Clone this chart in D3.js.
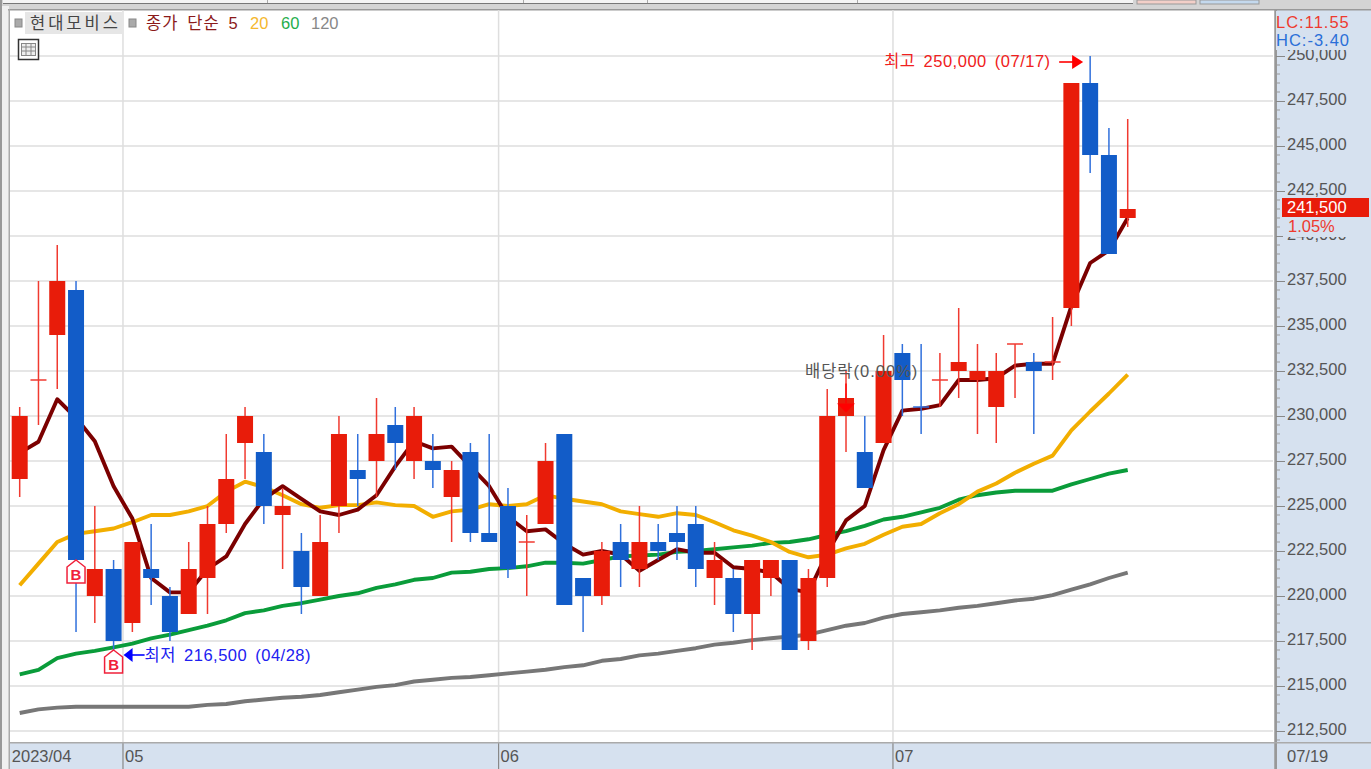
<!DOCTYPE html>
<html lang="ko">
<head>
<meta charset="utf-8">
<title>현대모비스</title>
<script src="https://cdnjs.cloudflare.com/ajax/libs/d3/7.8.5/d3.min.js"></script>
<style>
html,body{margin:0;padding:0;background:#d4d4d4;overflow:hidden}
svg{display:block}
text{font-family:"Liberation Sans","Noto Sans CJK KR",sans-serif;font-size:16.5px;fill:#555}
</style>
</head>
<body>
<svg id="c" width="1371" height="769"></svg>
<script>
const dates = ["04/21","04/24","04/25","04/26","04/27","04/28","05/02","05/03","05/04","05/08","05/09","05/10","05/11","05/12","05/15","05/16","05/17","05/18","05/19","05/22","05/23","05/24","05/25","05/26","05/30","05/31","06/01","06/02","06/05","06/07","06/08","06/09","06/12","06/13","06/14","06/15","06/16","06/19","06/20","06/21","06/22","06/23","06/26","06/27","06/28","06/29","06/30","07/03","07/04","07/05","07/06","07/07","07/10","07/11","07/12","07/13","07/14","07/17","07/18","07/19"];
const opens  = [226500,232000,234500,237000,220000,221500,218500,221500,220000,219000,221000,224000,228500,228000,224500,222500,220000,225000,227000,227500,229500,227500,227500,225500,228000,223500,225000,223000,224000,229000,221000,220000,223000,221500,223000,223500,224000,221000,221000,219000,221000,222000,217500,221000,230000,228000,228500,233500,230500,232000,232500,232000,230500,234000,233000,233000,236000,248500,244500,241000];
const closes = [230000,232000,237500,222000,221500,217500,223000,221000,218000,221500,224000,226500,230000,225000,225000,220500,223000,229000,226500,229000,228500,230000,227000,227000,223500,223000,221500,223000,227500,219500,220000,222500,222000,223000,222500,223000,221500,222000,219000,222000,222000,217000,221000,230000,231000,226000,232500,232000,230500,232000,233000,232500,232500,234000,232500,233000,248500,244500,239000,241500];
const high  = [230500,237500,239500,237500,225000,222000,223000,224000,220500,223000,225000,229000,230500,229000,226000,223500,224500,230000,229000,231000,230500,230500,229000,227500,228500,229000,226000,224500,228500,229000,221000,223000,224000,225000,224000,225000,225000,223000,221500,222000,222000,222000,221500,231500,232500,230000,234500,234000,234000,233500,236000,234000,233500,234000,233500,235500,248500,250000,246000,246500];
const low   = [225500,229500,231500,218000,218500,216500,218000,219500,217500,219000,219000,223500,226500,224000,221500,219000,220000,223500,225000,225500,227000,226500,226000,223000,223000,223000,221000,220000,224000,219500,218000,219500,220500,220500,222000,222000,220500,219500,218000,217000,220000,217000,217000,220500,228000,226000,228500,230000,229000,230500,231000,229000,228500,231000,229000,232000,235000,243500,239000,240500];
const ma5   = [227950,228570,230930,229900,228600,226100,224300,221000,220200,220200,221500,222200,224000,225400,226100,225400,224700,224500,224800,225600,227200,228600,228200,228300,227200,226100,224400,223600,223700,222900,222300,222500,222300,221400,222000,222600,222400,222400,221600,221500,221300,220400,220200,222400,224200,225000,228100,230300,230400,230600,232000,232000,232100,232800,232900,232900,236100,238500,239200,241000];
const ma20  = [220600,221800,223000,223450,223600,223750,224100,224500,224500,224700,225000,225800,226350,226050,225600,225100,224900,225050,225050,225200,225050,225000,224400,224700,224800,225100,225000,225100,225600,225400,225250,225100,224700,224550,224400,224600,224500,224100,223650,223350,223000,222450,222150,222300,222650,222900,223400,223850,224000,224600,225100,225800,226250,226850,227350,227800,229200,230250,231250,232300];
const ma60  = [215650,215900,216550,216800,216950,217150,217350,217650,217850,218100,218350,218650,219050,219200,219450,219600,219800,220000,220150,220450,220650,220900,221000,221300,221350,221500,221550,221650,221850,221850,221800,222000,222200,222250,222300,222450,222500,222600,222700,222800,222950,223000,223150,223400,223600,223900,224250,224400,224650,224900,225350,225600,225750,225850,225850,225850,226200,226500,226800,227000];
const ma120 = [213500,213700,213800,213850,213850,213850,213850,213850,213850,213850,213950,214000,214150,214250,214350,214400,214500,214650,214800,214950,215050,215250,215350,215450,215500,215600,215700,215800,215900,216050,216150,216400,216500,216700,216800,216950,217100,217300,217400,217550,217650,217750,217850,218100,218350,218500,218800,219000,219100,219200,219350,219450,219600,219750,219850,220050,220350,220650,221000,221300];
const monthLabels = [["04/21","2023/04"],["05/02","05"],["06/01","06"],["07/03","07"]];
const yTicks = d3.range(212500, 250001, 2500);
const yMinor = d3.range(212000, 251001, 500);
const buyDates = ["04/26","04/28"];

const RED="#e81c0a", BLUE="#125cc8", WRED="#f03a30", WBLUE="#3070dc", PANEL="#d6e1ef", GRID="#dedede";
const svg = d3.select("#c");
const L=10, T=10, R=1275, B=743;

const x = d3.scaleBand().domain(dates).range([10.3, 10.3+18.78*dates.length]).padding(0);
const y = d3.scaleLinear().domain([250000,212500]).range([56,731]);
const cx = d => x(d)+x.bandwidth()/2;

// chrome: top strip
const strip = svg.append("g");
strip.append("rect").attr("width",1371).attr("height",769).attr("fill","#d4d4d4");
strip.append("rect").attr("x",3).attr("y",0).attr("width",1130).attr("height",3).attr("fill","#f4f4f4");
strip.append("rect").attr("x",3).attr("y",3).attr("width",1130).attr("height",1).attr("fill","#777");
[267,523,647,857].forEach(v=>strip.append("rect").attr("x",v).attr("y",0).attr("width",1).attr("height",3).attr("fill","#aaa"));
strip.append("rect").attr("x",1137).attr("y",0).attr("width",59).attr("height",4).attr("fill","#f3cfc8").attr("stroke","#999");
strip.append("rect").attr("x",1200).attr("y",0).attr("width",59).attr("height",4).attr("fill","#c4d9ee").attr("stroke","#999");
// outer frame
svg.append("rect").attr("x",0).attr("y",0).attr("width",2).attr("height",769).attr("fill","#999");
svg.append("rect").attr("x",2).attr("y",6).attr("width",7).attr("height",763).attr("fill","#f0f0f0");
// plot + panels
svg.append("rect").attr("x",L).attr("y",T).attr("width",R-L).attr("height",B-T).attr("fill","#fff");
svg.append("rect").attr("x",R).attr("y",T).attr("width",1371-R).attr("height",769-T).attr("fill",PANEL);
svg.append("rect").attr("x",L).attr("y",B).attr("width",R-L).attr("height",769-B).attr("fill",PANEL);
svg.append("rect").attr("x",8).attr("y",9).attr("width",1363).attr("height",1.5).attr("fill","#999");
svg.append("rect").attr("x",8.5).attr("y",9).attr("width",1.5).attr("height",760).attr("fill","#aaa");

// gridlines
const gridG = svg.append("g");
gridG.selectAll("line.h").data(yTicks).join("line").attr("class","h")
  .attr("x1",L).attr("x2",R-2).attr("y1",d=>y(d)).attr("y2",d=>y(d))
  .attr("stroke",GRID).attr("stroke-width",1.5);
const monthStarts = monthLabels.slice(1).map(d=>d[0]);
gridG.selectAll("line.v").data(monthStarts).join("line").attr("class","v")
  .attr("x1",d=>x(d)).attr("x2",d=>x(d)).attr("y1",T).attr("y2",B)
  .attr("stroke",GRID).attr("stroke-width",1.5);
svg.append("g").selectAll("line").data(monthStarts).join("line")
  .attr("x1",d=>x(d)).attr("x2",d=>x(d)).attr("y1",B).attr("y2",769)
  .attr("stroke","#888").attr("stroke-width",1.2);

// moving averages
const line = d3.line().x((d,i)=>cx(dates[i])).y(d=>y(d));
[[ma120,"#777777"],[ma60,"#0a9c3a"],[ma20,"#f2ae00"],[ma5,"#7b0000"]].forEach(([s,c])=>{
  svg.append("path").attr("d",line(s)).attr("fill","none").attr("stroke",c).attr("stroke-width",3.9).attr("stroke-linejoin","round");
});

// candles
const idx = d3.range(dates.length);
const isBlue = i => closes[i]<opens[i] || (closes[i]===opens[i] && [48].includes(i));
const candles = svg.append("g");
candles.selectAll("line.wick").data(idx).join("line").attr("class","wick")
  .attr("x1",i=>cx(dates[i])).attr("x2",i=>cx(dates[i]))
  .attr("y1",i=>y(high[i])).attr("y2",i=>y(low[i]))
  .attr("stroke",i=>isBlue(i)?WBLUE:WRED).attr("stroke-width",1.5);
candles.selectAll("rect.body").data(idx.filter(i=>opens[i]!==closes[i])).join("rect").attr("class","body")
  .attr("x",i=>cx(dates[i])-8).attr("width",16)
  .attr("y",i=>y(Math.max(opens[i],closes[i])))
  .attr("height",i=>Math.abs(y(opens[i])-y(closes[i])))
  .attr("fill",i=>isBlue(i)?BLUE:RED);
candles.selectAll("line.doji").data(idx.filter(i=>opens[i]===closes[i])).join("line").attr("class","doji")
  .attr("x1",i=>cx(dates[i])-8).attr("x2",i=>cx(dates[i])+8)
  .attr("y1",i=>y(closes[i])).attr("y2",i=>y(closes[i]))
  .attr("stroke",i=>isBlue(i)?WBLUE:WRED).attr("stroke-width",1.5);

// B markers
const bm = svg.append("g").selectAll("g").data(buyDates).join("g")
  .attr("transform",d=>{
    const i=dates.indexOf(d);
    return `translate(${cx(d)},${d==="04/26"?y(closes[i]):y(low[i])-9})`;
  });
bm.append("path").attr("d","M0,0 L9,7 L9,23 L-9,23 L-9,7 Z").attr("fill","#fff").attr("stroke","#f0203a").attr("stroke-width",1.5);
bm.append("text").attr("x",0).attr("y",19.5).attr("text-anchor","middle")
  .style("font-size","15px").style("font-weight","bold").style("fill","#f0203a").text("B");

// high / low annotations
const hiD="07/17", loD="04/28", exD="06/28";
const hiY=y(high[dates.indexOf(hiD)]), loY=y(low[dates.indexOf(loD)]);
const hiX=cx(hiD), loX=cx(loD);
const spaced = s => s.style("letter-spacing","0.5px").style("word-spacing","3px");
spaced(svg.append("text").attr("x",hiX-206).attr("y",hiY+11).style("fill","#f02020"))
  .text("최고 250,000 (07/17)");
svg.append("path").attr("d",`M${hiX-31},${hiY+6} H${hiX-16}`).attr("stroke","#f00").attr("stroke-width",1.6);
svg.append("path").attr("d",`M${hiX-18},${hiY-1} L${hiX-7},${hiY+6} L${hiX-18},${hiY+13} Z`).attr("fill","#f00");
svg.append("path").attr("d",`M${loX+18},${loY-4} H${loX+31}`).attr("stroke","#00f").attr("stroke-width",1.6);
svg.append("path").attr("d",`M${loX+10},${loY-4} L${loX+19},${loY-11} L${loX+19},${loY+3} Z`).attr("fill","#00f");
spaced(svg.append("text").attr("x",loX+31).attr("y",loY+2).style("fill","#2020f0"))
  .text("최저 216,500 (04/28)");

// ex-dividend marker
const exX=cx(exD), exTop=y(231800);
svg.append("path").attr("d",`M${exX},${exTop} V${exTop+20}`).attr("stroke","#f00").attr("stroke-width",1.4);
svg.append("path").attr("d",`M${exX-9},${exTop+20} H${exX+9} L${exX},${exTop+29} Z`).attr("fill","#f00");
svg.append("text").attr("x",805).attr("y",377).style("fill","#555").style("letter-spacing","1px").text("배당락(0.00%)");

// y axis with d3
const axisG = svg.append("g").attr("transform",`translate(${R+1},0)`)
  .call(d3.axisRight(y).tickValues(yTicks).tickSize(9).tickPadding(2).tickFormat(d3.format(",")));
axisG.select(".domain").attr("stroke","#999").attr("stroke-width",2).attr("d",`M0,${T}V769`);
axisG.selectAll(".tick line").attr("stroke","#888").attr("stroke-width",1);
axisG.selectAll(".tick text").style("fill","#555").style("font-size","16.5px").attr("transform","translate(0,-1.5)");
svg.append("g").selectAll("line").data(yMinor.filter(v=>!yTicks.includes(v))).join("line")
  .attr("x1",R+1).attr("x2",R+5).attr("y1",d=>y(d)).attr("y2",d=>y(d))
  .attr("stroke","#999").attr("stroke-width",1);

// LC / HC box and last price
svg.append("rect").attr("x",R+1).attr("y",T+1).attr("width",94).attr("height",39).attr("fill",PANEL);
svg.append("text").attr("x",1276).attr("y",28).style("fill","#ee3a2e").style("font-size","16.5px").style("letter-spacing","1px").text("LC:11.55");
svg.append("text").attr("x",1276).attr("y",46).style("fill","#2a6fd8").style("font-size","16.5px").style("letter-spacing","1px").text("HC:-3.40");
const lastV=closes[closes.length-1], lastY=y(lastV);
svg.append("rect").attr("x",R+8).attr("y",lastY+8).attr("width",88).attr("height",20).attr("fill",PANEL);
svg.append("rect").attr("x",1282).attr("y",lastY-11).attr("width",87).attr("height",19).attr("fill",RED);
svg.append("text").attr("x",1287).attr("y",lastY+4).style("fill","#fff").text(d3.format(",")(lastV));
svg.append("text").attr("x",1288).attr("y",lastY+23).style("fill","#ee3a2e").text("1.05%");

// x labels
svg.append("g").selectAll("text").data(monthLabels).join("text")
  .attr("x",d=>x(d[0])+ (d[1].length>2?1.5:2)).attr("y",762).text(d=>d[1]);
svg.append("line").attr("x1",R).attr("x2",R).attr("y1",T).attr("y2",769).attr("stroke","#999").attr("stroke-width",1.5);
svg.append("rect").attr("x",L).attr("y",B-1).attr("width",1361).attr("height",1.5).attr("fill","#aaa");
svg.append("text").attr("x",1287).attr("y",762).text(dates[dates.length-1]);

// legend
const sq=(xx)=>svg.append("rect").attr("x",xx).attr("y",19).attr("width",7).attr("height",8).attr("fill","#aaa").attr("stroke","#888");
sq(15); sq(129);
svg.append("rect").attr("x",25).attr("y",12).attr("width",98).attr("height",22).attr("fill","#e6e6e6");
svg.append("text").attr("x",30).attr("y",29).style("fill","#444").style("letter-spacing","3px").text("현대모비스");
svg.append("text").attr("x",146).attr("y",29).style("fill","#8b1a1a").style("letter-spacing","1.1px").style("word-spacing","3px").text("종가 단순 5");
svg.append("text").attr("x",250).attr("y",29).style("fill","#f5b82e").text("20");
svg.append("text").attr("x",281).attr("y",29).style("fill","#1fae4c").text("60");
svg.append("text").attr("x",311).attr("y",29).style("fill","#888").text("120");
const ic=svg.append("g").attr("transform","translate(18,39)");
ic.append("rect").attr("x",0.5).attr("y",0.5).attr("width",20).attr("height",20).attr("fill","#fff").attr("stroke","#333").attr("stroke-width",1.5);
ic.append("rect").attr("x",3.5).attr("y",4.5).attr("width",14).attr("height",12).attr("fill","#eee").attr("stroke","#888");
[8,13].forEach(v=>ic.append("line").attr("x1",v).attr("x2",v).attr("y1",5).attr("y2",16).attr("stroke","#888"));
[8,12].forEach(v=>ic.append("line").attr("x1",4).attr("x2",17).attr("y1",v).attr("y2",v).attr("stroke","#888"));
</script>
</body>
</html>
